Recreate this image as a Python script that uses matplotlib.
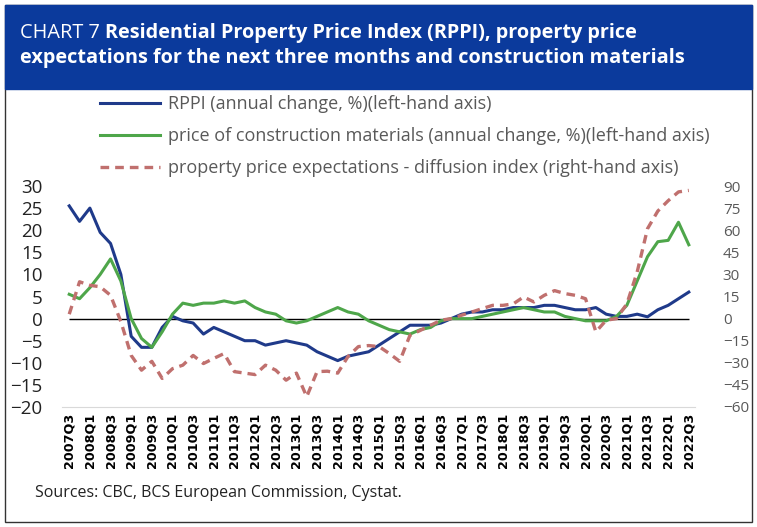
import matplotlib.pyplot as plt
from matplotlib.patches import Rectangle

# ── data (quarterly, 2007Q3 .. 2022Q3) ──────────────────
quarters = [f"{y}Q{q}" for y in range(2007, 2023) for q in range(1, 5)][2:-1]

rppi = [25.5, 22, 25, 19.5, 17, 10, -4, -6.5, -6.5, -2,
        0.5, -0.5, -1, -3.5, -2, -3, -4, -5, -5, -6,
        -5.5, -5, -5.5, -6, -7.5, -8.5, -9.5, -8.5, -8, -7.5,
        -6, -4.5, -3, -1.5, -1.5, -1.5, -1, 0, 1, 1.5,
        1.5, 2, 2, 2.5, 2.5, 2.5, 3, 3, 2.5, 2,
        2, 2.5, 1, 0.5, 0.5, 1, 0.4, 2, 3, 4.5, 6]

materials = [5.5, 4.5, 7, 10, 13.5, 8.5, 0, -4.5, -6.5, -3,
             1, 3.5, 3, 3.5, 3.5, 4, 3.5, 4, 2.5, 1.5,
             1, -0.5, -1, -0.5, 0.5, 1.5, 2.5, 1.5, 1, -0.5,
             -1.5, -2.5, -3, -3.5, -2.5, -2, -0.5, 0, 0, 0,
             0.5, 1, 1.5, 2, 2.5, 2, 1.5, 1.5, 0.5, 0,
             -0.5, -0.5, -0.5, 0.5, 3, 8.5, 14, 17.4, 17.7, 21.8, 16.7]

expectations = [3, 25, 22.6, 21.6, 15.8, -2, -25, -35, -29, -40.6,
                -34, -31.6, -25, -30.5, -27, -23.7, -36, -37, -38, -31.6,
                -35, -41.8, -37, -53, -36, -35.7, -37, -25.7, -19, -18.3,
                -19, -23.7, -29, -11.3, -8, -4.5, -1.1, 0, 2.3, 4.5,
                6.8, 9, 9, 10, 14.7, 11.3, 15.8, 19, 17, 15.8,
                13.5, -9, -1.1, 0, 10, 31.6, 61, 73, 80, 86, 87]

labels = ["RPPI (annual change, %)(left-hand axis)",
          "price of construction materials (annual change, %)(left-hand axis)",
          "property price expectations - diffusion index (right-hand axis)"]

title_a = "CHART 7 "
title_b = "Residential Property Price Index (RPPI), property price"
title_c = "expectations for the next three months and construction materials"
source = "Sources: CBC, BCS European Commission, Cystat."

plt.rcParams["font.family"] = ["Open Sans", "DejaVu Sans"]

W, H = 757, 527
fig = plt.figure(figsize=(W / 100, H / 100), dpi=100)

# ── header band + frame ─────────────────────────────────
fig.patches.append(Rectangle((5 / W, 1 - 522 / H), 747 / W, 517 / H,
                             transform=fig.transFigure, fill=False,
                             edgecolor="#333333", lw=1))
fig.patches.append(Rectangle((5 / W, 1 - 89 / H), 747 / W, 84 / H,
                             transform=fig.transFigure, color="#0B3A9C"))
t1 = fig.text(20 / W, 1 - 38 / H, title_a, color="white", fontsize=14.3, va="baseline")
fig.canvas.draw()
bb = t1.get_window_extent()
fig.text(bb.x1 / W, 1 - 38 / H, title_b, color="white", fontsize=14.3,
         fontweight="bold", va="baseline")
fig.text(20 / W, 1 - 63 / H, title_c, color="white", fontsize=14.3,
         fontweight="bold", va="baseline")

# ── axes ───────────────────────────────────────────────
ax = fig.add_axes([62 / W, 1 - 407 / H, (695 - 62) / W, (407 - 186) / H])
ax2 = ax.twinx()
x = list(range(len(quarters)))

l1, = ax.plot(x, rppi, color="#1F3A8A", lw=2.2)
l2, = ax.plot(x, materials, color="#4EA64A", lw=2.2)
l3, = ax2.plot(x, expectations, color="#C0706E", lw=2.4, dashes=(2.6, 1.8))
ax.hlines(0, 0, len(x) - 1, color="black", lw=1, zorder=1)

ax.set_xlim(-0.7, 60.6)
ax.set_ylim(-20, 30)
ax2.set_ylim(-60, 90)
ax.set_yticks(range(-20, 31, 5))
ax2.set_yticks(range(-60, 91, 15))
ax.set_xticks(x[::2])
ax.set_xticklabels(quarters[::2], rotation=90, fontsize=9.2,
                   fontweight="bold", family="DejaVu Sans")

for a in (ax, ax2):
    for s in a.spines.values():
        s.set_visible(False)
    a.tick_params(length=0)
ax.spines["bottom"].set_visible(True)
ax.spines["bottom"].set_color("#D9D9D9")
ax.tick_params(axis="y", labelsize=13.5, labelcolor="#222222", pad=14)
ax.tick_params(axis="x", pad=4)
ax2.tick_params(axis="y", labelsize=11, labelcolor="#595959", pad=20)

fig.legend([l1, l2, l3], labels, loc="upper left",
           bbox_to_anchor=(100 / W, 1 - 95 / H), frameon=False,
           borderpad=0, borderaxespad=0, fontsize=13,
           handlelength=3.3, handletextpad=0.44, labelspacing=0.78,
           labelcolor="#595959")

fig.text(35 / W, 1 - 497 / H, source, fontsize=11.5, color="#222222")

fig.savefig("out.png", dpi=100)
